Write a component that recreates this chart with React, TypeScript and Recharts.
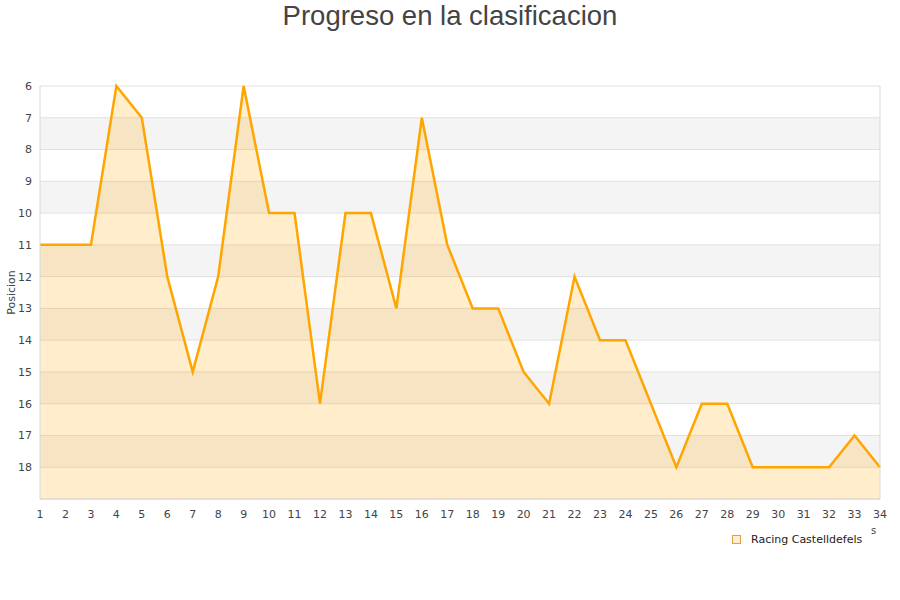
import React from 'react';
import { AreaChart, Area, XAxis, YAxis, CartesianGrid, ReferenceLine } from 'recharts';

const jornadas = [1, 2, 3, 4, 5, 6, 7, 8, 9, 10, 11, 12, 13, 14, 15, 16, 17, 18, 19, 20, 21, 22, 23, 24, 25, 26, 27, 28, 29, 30, 31, 32, 33, 34];
const posiciones = [11, 11, 11, 6, 7, 12, 15, 12, 6, 10, 10, 16, 10, 10, 13, 7, 11, 13, 13, 15, 16, 12, 14, 14, 16, 18, 16, 16, 18, 18, 18, 18, 17, 18];
const yTicks = [6, 7, 8, 9, 10, 11, 12, 13, 14, 15, 16, 17, 18];
const teamName = 'Racing Castelldefels';

const data = jornadas.map((j, i) => ({ jornada: j, pos: posiciones[i] }));

const ORANGE = '#FFA500';
const font = 'DejaVu Sans, sans-serif';

// leyenda fuera del chart para que no robe altura al area de dibujo
const LegendBox = () => (
  <div style={{ position: 'absolute', left: 732, top: 533, display: 'flex', alignItems: 'center', fontFamily: font, fontSize: 11, color: '#222' }}>
    <span style={{ width: 7, height: 7, border: '1px solid #e0a040', background: '#FFEDCC', marginRight: 10, display: 'inline-block' }} />
    <span>{teamName}</span>
  </div>
);

const App: React.FC = () => {
  return (
    <div style={{ position: 'absolute', left: 0, top: 0, width: 900, height: 600, background: '#fff' }}>
      <div style={{ position: 'absolute', left: 0, top: 0, width: 900, textAlign: 'center', fontFamily: 'Liberation Sans, Arial, sans-serif', fontSize: 27.5, color: '#444', lineHeight: '32px' }}>
        Progreso en la clasificacion
      </div>
      <AreaChart width={900} height={600} data={data} margin={{ top: 86, right: 20, bottom: 71, left: 0 }}>
        <CartesianGrid vertical={false} stroke="#e0e0e0" horizontalFill={['#ffffff', '#f4f4f4']} fillOpacity={1} />
        <XAxis
          dataKey="jornada"
          type="number"
          domain={[1, 34]}
          ticks={jornadas}
          interval={0}
          tickLine={false}
          axisLine={{ stroke: '#d8d8d8' }}
          tick={{ fill: '#444', fontSize: 11, fontFamily: font, dy: 3 }}
          height={30}
        />
        <YAxis
          type="number"
          reversed
          domain={[6, 19]}
          ticks={yTicks}
          interval={0}
          tickLine={false}
          axisLine={{ stroke: '#d8d8d8' }}
          tick={{ fill: '#444', fontSize: 11, fontFamily: font }}
          width={40}
          label={{ value: 'Posicion', angle: -90, position: 'insideLeft', dx: 6, textAnchor: 'middle', fill: '#444', fontSize: 11, fontFamily: font }}
        />
        <ReferenceLine x={34} stroke="#d8d8d8" />
        <Area
          type="linear"
          dataKey="pos"
          baseValue={19}
          stroke={ORANGE}
          strokeWidth={2.5}
          fill={ORANGE}
          fillOpacity={0.2}
          dot={false}
          activeDot={false}
          isAnimationActive={false}
        />
      </AreaChart>
      <LegendBox />
      <div style={{ position: 'absolute', left: 871, top: 525, fontFamily: font, fontSize: 10, color: '#444' }}>s</div>
    </div>
  );
};

export default App;
